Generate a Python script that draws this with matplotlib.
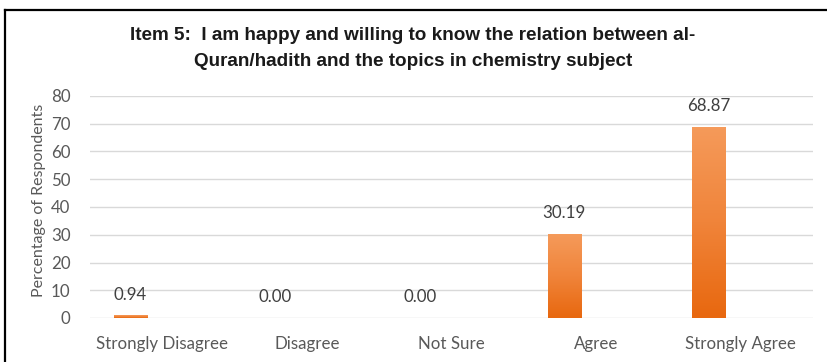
import matplotlib
matplotlib.use("Agg")
import matplotlib.pyplot as plt
import numpy as np
from matplotlib import font_manager
from matplotlib.colors import LinearSegmentedColormap
from matplotlib.lines import Line2D

categories = ["Strongly Disagree", "Disagree", "Not Sure", "Agree", "Strongly Agree"]
percentages = [0.94, 0.00, 0.00, 30.19, 68.87]
value_labels = ["0.94", "0.00", "0.00", "30.19", "68.87"]
y_ticks = [0, 10, 20, 30, 40, 50, 60, 70, 80]
title_lines = ["Item 5:  I am happy and willing to know the relation between al-",
               "Quran/hadith and the topics in chemistry subject"]

installed = {f.name for f in font_manager.fontManager.ttflist}
title_family = "Liberation Sans Narrow" if "Liberation Sans Narrow" in installed else "Liberation Sans"
title_size = 15.5 if title_family == "Liberation Sans Narrow" else 13.6
body_font = "Lato"
body_size = 12.2
grey = "#595959"

W, H = 827, 362
fig = plt.figure(figsize=(W / 100, H / 100), dpi=100)
fig.patch.set_facecolor("white")

ax = fig.add_axes([90 / W, 1 - 318 / H, (813 - 90) / W, (318 - 96) / H])

x = np.arange(len(categories))
bar_offset = -0.22
bar_width = 0.23

grad = LinearSegmentedColormap.from_list("orange", ["#e8680f", "#f0843a", "#f59a5a"])
bars = ax.bar(x + bar_offset, percentages, width=bar_width, color="#ed7d31",
              zorder=2, linewidth=0)
for b in bars:
    bx, by = b.get_x(), b.get_y()
    bw, bh = b.get_width(), b.get_height()
    if bh <= 0:
        continue
    img = np.linspace(0, 1, 64).reshape(-1, 1)
    im = ax.imshow(img, cmap=grad, origin="lower", aspect="auto",
                   extent=(bx, bx + bw, by, by + bh), zorder=3)
    im.set_clip_path(b)

for xi, v, lab in zip(x, percentages, value_labels):
    ax.annotate(lab, (xi + bar_offset, v), xytext=(0, 15), textcoords="offset points",
                ha="center", va="center", fontsize=body_size, color="#404040",
                family=body_font)

ax.set_xlim(-0.5, len(categories) - 0.5)
ax.set_ylim(0, 80)
ax.set_yticks(y_ticks)
ax.set_yticklabels([str(t) for t in y_ticks], fontsize=body_size, color=grey, family=body_font)
ax.set_xticks(x)
ax.set_xticklabels(categories, fontsize=body_size, color=grey, family=body_font)
ax.tick_params(axis="both", length=0)
ax.tick_params(axis="x", pad=13)
ax.tick_params(axis="y", pad=14)
ax.grid(axis="y", color="#d9d9d9", linewidth=1, zorder=0)
ax.set_axisbelow(True)
for s in ax.spines.values():
    s.set_visible(False)

ax.set_ylabel("Percentage of Respondents", fontsize=11.5, color=grey, family=body_font)
ax.yaxis.label.set_va("center")
ax.yaxis.set_label_coords((39 - 90) / (813 - 90), 0.53)

fig.text(413 / W, 1 - 36 / H, title_lines[0], ha="center", va="center",
         fontsize=title_size, fontweight="bold", family=title_family, color="#1a1a1a")
fig.text(413 / W, 1 - 62 / H, title_lines[1], ha="center", va="center",
         fontsize=title_size, fontweight="bold", family=title_family, color="#1a1a1a")

# frame lines along the top and left edges
fig.add_artist(Line2D([5 / W, 1], [1 - 10 / H, 1 - 10 / H], transform=fig.transFigure,
                      color="black", linewidth=1.6))
fig.add_artist(Line2D([5 / W, 5 / W], [0, 1 - 10 / H], transform=fig.transFigure,
                      color="black", linewidth=1.6))

fig.savefig("out.png", dpi=100)
